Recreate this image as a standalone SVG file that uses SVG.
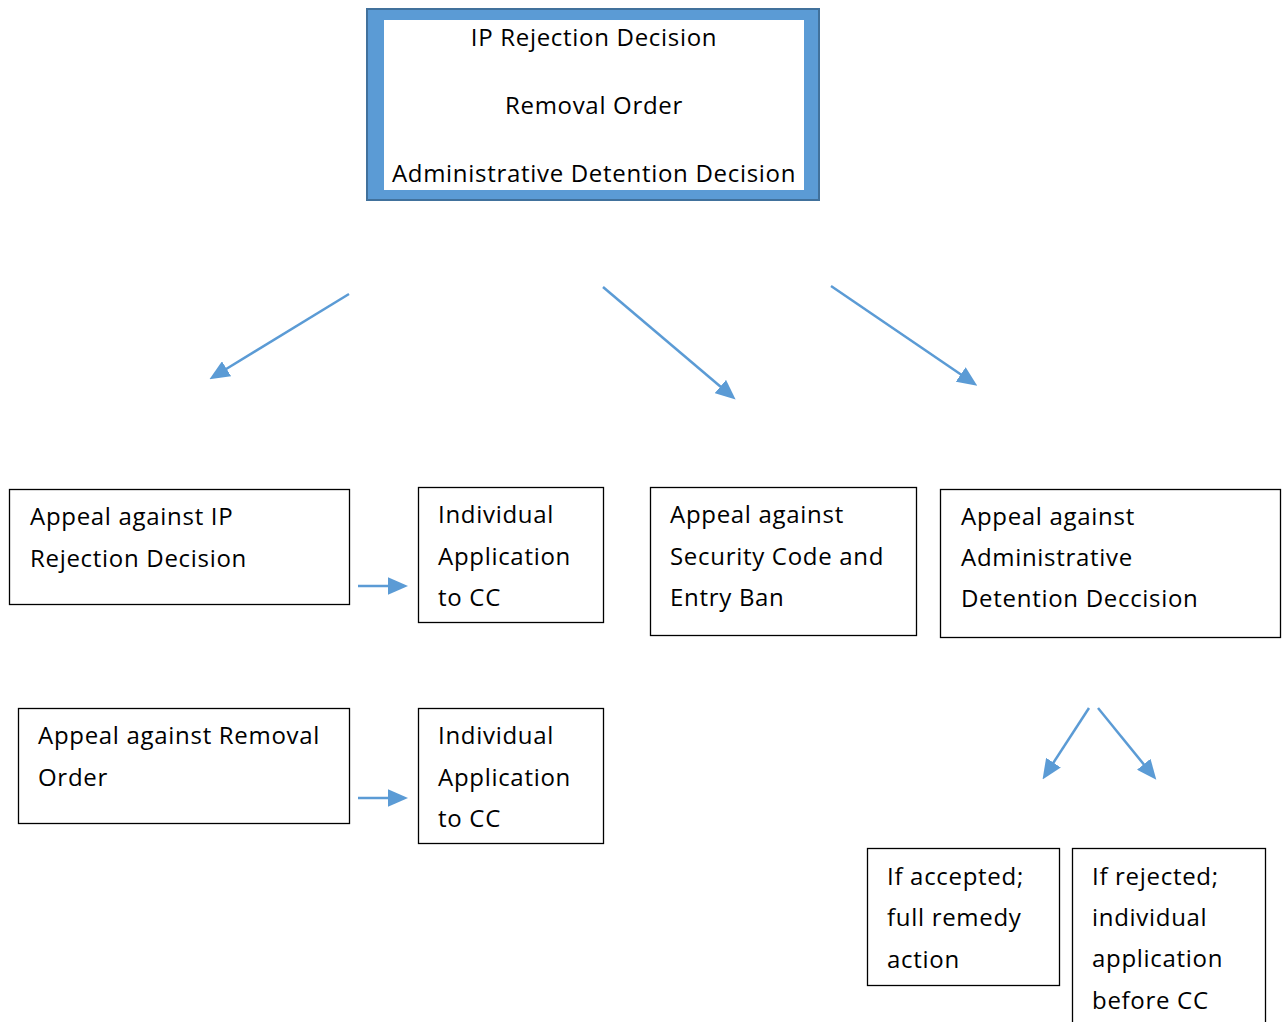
<svg xmlns="http://www.w3.org/2000/svg" width="1285" height="1022" viewBox="0 0 1285 1022">
<style>
text{font-family:"Open Sans","Liberation Sans",sans-serif;font-size:24px;letter-spacing:0.7px;fill:#000}
.box{fill:#fff;stroke:#000;stroke-width:1.3}
.c{text-anchor:middle}
.arr{stroke:#5B9BD5;stroke-width:2.5;fill:none;marker-end:url(#ah)}
</style>
<defs>
<marker id="ah" markerWidth="8" markerHeight="7" refX="4" refY="3.5" orient="auto" markerUnits="strokeWidth">
<path d="M0,0 L8,3.5 L0,7 Z" fill="#5B9BD5"/>
</marker>
</defs>
<g id="top">
<rect x="367" y="9" width="452" height="191" fill="#5B9BD5" stroke="#41719C" stroke-width="2"/>
<rect x="384" y="20" width="420" height="170" fill="#fff"/>
<text class="c" x="594" y="46">IP Rejection Decision</text>
<text class="c" x="594" y="114">Removal Order</text>
<text class="c" x="594" y="182">Administrative Detention Decision</text>
</g>
<g id="b1"><rect class="box" x="9.5" y="489.5" width="340" height="115"/>
<text x="30" y="525">Appeal against IP</text><text x="30" y="567">Rejection Decision</text></g>
<g id="b2"><rect class="box" x="418.5" y="487.5" width="185" height="135"/>
<text x="438" y="523">Individual</text><text x="438" y="565">Application</text><text x="438" y="606">to CC</text></g>
<g id="b3"><rect class="box" x="650.5" y="487.5" width="266" height="148"/>
<text x="670" y="523">Appeal against</text><text x="670" y="565">Security Code and</text><text x="670" y="606">Entry Ban</text></g>
<g id="b4"><rect class="box" x="940.5" y="489.5" width="340" height="148"/>
<text x="961" y="525">Appeal against</text><text x="961" y="566">Administrative</text><text x="961" y="607">Detention Deccision</text></g>
<g id="b5"><rect class="box" x="18.5" y="708.5" width="331" height="115"/>
<text x="38" y="744">Appeal against Removal</text><text x="38" y="786">Order</text></g>
<g id="b6"><rect class="box" x="418.5" y="708.5" width="185" height="135"/>
<text x="438" y="744">Individual</text><text x="438" y="786">Application</text><text x="438" y="827">to CC</text></g>
<g id="b7"><rect class="box" x="867.5" y="848.5" width="192" height="137"/>
<text x="887" y="885">If accepted;</text><text x="887" y="926">full remedy</text><text x="887" y="968">action</text></g>
<g id="b8"><rect class="box" x="1072.5" y="848.5" width="193" height="180"/>
<text x="1092" y="885">If rejected;</text><text x="1092" y="926">individual</text><text x="1092" y="967">application</text><text x="1092" y="1009">before CC</text></g>
<g id="connectors">
<line class="arr" x1="349" y1="294" x2="218" y2="374"/>
<line class="arr" x1="603" y1="287" x2="728" y2="393"/>
<line class="arr" x1="831" y1="286" x2="969" y2="380"/>
<line class="arr" x1="358" y1="586" x2="398" y2="586"/>
<line class="arr" x1="358" y1="798" x2="398" y2="798"/>
<line class="arr" x1="1089" y1="708" x2="1048" y2="771"/>
<line class="arr" x1="1098" y1="708" x2="1150" y2="772"/>
</g>
</svg>
